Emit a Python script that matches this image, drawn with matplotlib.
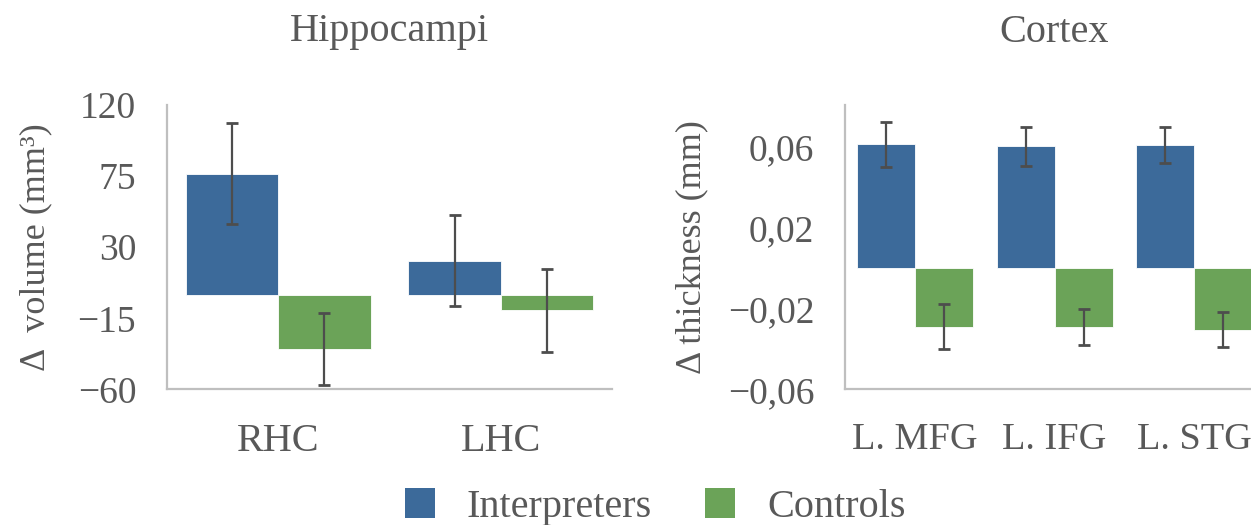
import matplotlib
matplotlib.use('Agg')
import numpy as np
import matplotlib.pyplot as plt
from matplotlib.patches import Patch

# hippocampus volume change (mm3)
hc_labels = ['RHC', 'LHC']
hc_interp = [76.6, 21.4]
hc_interp_err = [32.0, 28.8]
hc_ctrl = [-34.4, -10.0]
hc_ctrl_err = [22.7, 26.4]

# cortical thickness change (mm)
cx_labels = ['L. MFG', 'L. IFG', 'L. STG']
cx_interp = [0.0611, 0.0602, 0.0607]
cx_interp_err = [0.0112, 0.0096, 0.0089]
cx_ctrl = [-0.0289, -0.0289, -0.0304]
cx_ctrl_err = [0.0112, 0.0089, 0.0086]

hc_ticks = [-60, -15, 30, 75, 120]
cx_ticks = [-0.06, -0.02, 0.02, 0.06]
cx_ticklabels = ['\u22120,06', '\u22120,02', '0,02', '0,06']

BLUE = '#3c6a9a'
GREEN = '#6ba358'
TXT = '#595959'
SPINE = '#bfbfbf'
ERR = '#4d4d4d'

plt.rcParams['font.family'] = ['Liberation Serif', 'DejaVu Serif']

fig = plt.figure(figsize=(12.51, 5.25), dpi=100)
ax1 = fig.add_axes([0.1333, 0.2581, 0.356, 0.5419])
ax2 = fig.add_axes([0.6755, 0.2581, 0.335, 0.5419])

w = 0.415


def draw(ax, labels, a, a_err, b, b_err, xsize):
    x = np.arange(len(labels))
    ax.bar(x - w / 2, a, w, color=BLUE, edgecolor='white', linewidth=0.6)
    ax.bar(x + w / 2, b, w, color=GREEN, edgecolor='white', linewidth=0.6)
    for xs, vals, errs in [(x - w / 2, a, a_err), (x + w / 2, b, b_err)]:
        ax.errorbar(xs, vals, yerr=errs, fmt='none', ecolor=ERR,
                    elinewidth=1.6, capsize=4, capthick=2)
    ax.set_xticks(x)
    ax.set_xticklabels(labels, fontsize=xsize, color=TXT)
    ax.set_xlim(-0.5, len(labels) - 0.5)
    for s in ['top', 'right']:
        ax.spines[s].set_visible(False)
    for s in ['left', 'bottom']:
        ax.spines[s].set_color(SPINE)
        ax.spines[s].set_linewidth(1.6)
    ax.tick_params(axis='both', length=0, colors=TXT)
    ax.tick_params(axis='x', pad=24)
    ax.tick_params(axis='y', pad=22, labelsize=27)


draw(ax1, hc_labels, hc_interp, hc_interp_err, hc_ctrl, hc_ctrl_err, 29)
ax1.set_ylim(-60, 120)
ax1.set_yticks(hc_ticks)
ax1.set_yticklabels([str(t).replace('-', '\u2212') for t in hc_ticks])
ax1.set_ylabel('\u0394  volume (mm\u00b3)', fontsize=26, color=TXT, labelpad=18)

draw(ax2, cx_labels, cx_interp, cx_interp_err, cx_ctrl, cx_ctrl_err, 27.5)
ax2.set_ylim(-0.06, 0.0805)
ax2.set_yticks(cx_ticks)
ax2.set_yticklabels(cx_ticklabels)
ax2.set_ylabel('\u0394 thickness (mm)', fontsize=26, color=TXT, labelpad=14)

fig.text(389 / 1251, 1 - 32 / 525, 'Hippocampi', fontsize=29, color=TXT,
         ha='center', va='center')
fig.text(1054 / 1251, 1 - 32 / 525, 'Cortex', fontsize=29, color=TXT,
         ha='center', va='center')

handles = [Patch(facecolor=BLUE, label='Interpreters'),
           Patch(facecolor=GREEN, label='Controls')]
leg = fig.legend(handles=handles, loc='center', bbox_to_anchor=(655 / 1251, 0.034),
                 ncol=2, frameon=False, fontsize=29, handlelength=0.75,
                 handleheight=0.75, handletextpad=0.8, columnspacing=1.3)
for t in leg.get_texts():
    t.set_color(TXT)

fig.savefig('out.png', dpi=100)
